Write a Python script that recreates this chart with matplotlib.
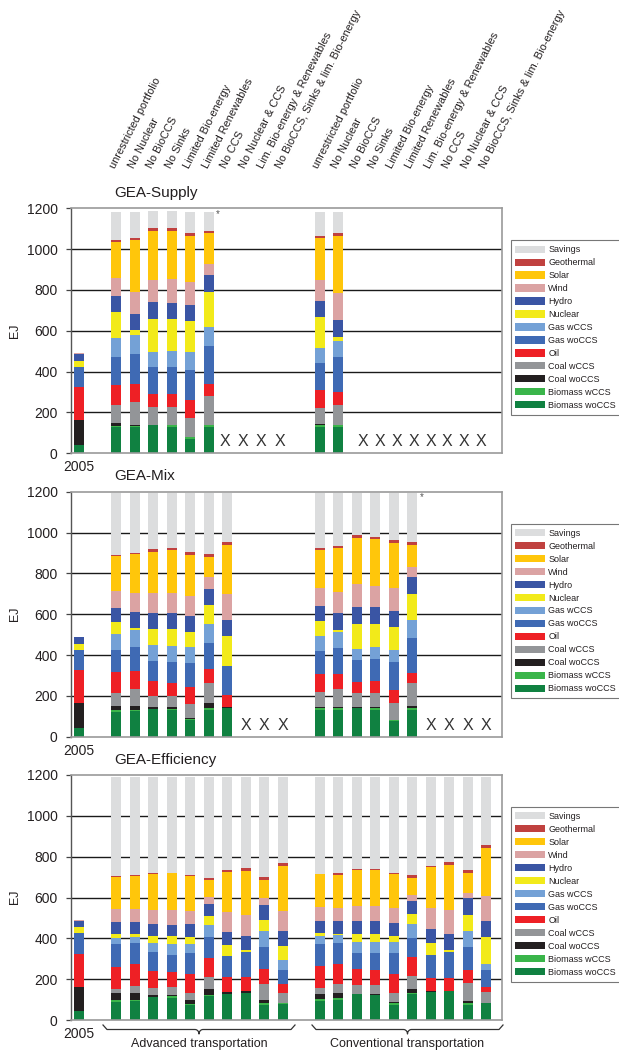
import numpy as np
import matplotlib
matplotlib.use('Agg')
import matplotlib.pyplot as plt
from matplotlib.patches import Patch
from matplotlib.lines import Line2D
import matplotlib.transforms as mtransforms

plt.rcParams['font.family'] = ['Liberation Sans', 'DejaVu Sans']

N = np.nan

# ---------------- data ----------------
sources = ['Biomass woCCS', 'Biomass wCCS', 'Coal woCCS', 'Coal wCCS', 'Oil',
           'Gas woCCS', 'Gas wCCS', 'Nuclear', 'Hydro', 'Wind', 'Solar',
           'Geothermal', 'Savings']
colors = ['#108141', '#3AB54A', '#231F20', '#939598', '#EE2025',
          '#3F6AB4', '#74A1D6', '#F2EA1A', '#3A55A4', '#DBA3A3', '#FFC60B',
          '#C0413F', '#DCDDDE']

adv_labels = ['unrestricted portfolio', 'No Nuclear', 'No BioCCS', 'No Sinks',
              'Limited Bio-energy', 'Limited Renewables', 'No CCS',
              'No Nuclear & CCS', 'Lim. Bio-energy & Renewables',
              'No BioCCS, Sinks & lim. Bio-energy']
conv_labels = ['unrestricted portfolio', 'No Nuclear', 'No BioCCS', 'No Sinks',
               'Limited Bio-energy', 'Limited Renewables',
               'Lim. Bio-energy & Renewables', 'No CCS', 'No Nuclear & CCS',
               'No BioCCS, Sinks & lim. Bio-energy']
panel_titles = ['GEA-Supply', 'GEA-Mix', 'GEA-Efficiency']
year_label = '2005'

# bars: 2005, advanced 1..10, conventional 1..10  (EJ)
supply_bio_wo  = [42, 130, 128, 138, 130, 72, 128, N, N, N, N, 128, 128, N, N, N, N, N, N, N, N]
supply_bio_w   = [0, 5, 5, 0, 7, 8, 9, N, N, N, N, 9, 10, N, N, N, N, N, N, N, N]
supply_coal_wo = [122, 13, 8, 3, 4, 0, 4, N, N, N, N, 6, 0, N, N, N, N, N, N, N, N]
supply_coal_w  = [0, 88, 109, 85, 85, 92, 139, N, N, N, N, 80, 98, N, N, N, N, N, N, N, N]
supply_oil     = [161, 97, 90, 65, 65, 88, 60, N, N, N, N, 88, 65, N, N, N, N, N, N, N, N]
supply_gas_wo  = [100, 137, 145, 130, 130, 146, 184, N, N, N, N, 130, 169, N, N, N, N, N, N, N, N]
supply_gas_w   = [0, 93, 92, 73, 78, 88, 97, N, N, N, N, 73, 78, N, N, N, N, N, N, N, N]
supply_nuclear = [29, 131, 25, 166, 161, 156, 171, N, N, N, N, 156, 20, N, N, N, N, N, N, N, N]
supply_hydro   = [32, 78, 78, 83, 78, 78, 83, N, N, N, N, 78, 83, N, N, N, N, N, N, N, N]
supply_wind    = [3, 88, 112, 107, 117, 112, 53, N, N, N, N, 102, 132, N, N, N, N, N, N, N, N]
supply_solar   = [0, 176, 254, 239, 234, 224, 152, N, N, N, N, 205, 283, N, N, N, N, N, N, N, N]
supply_geo     = [0, 10, 10, 15, 15, 15, 9, N, N, N, N, 10, 15, N, N, N, N, N, N, N, N]
supply_savings = [0, 137, 127, 83, 83, 102, 93, N, N, N, N, 117, 102, N, N, N, N, N, N, N, N]

mix_bio_wo  = [42, 121, 127, 135, 132, 80, 131, 140, N, N, N, 131, 131, 140, 131, 77, 131, N, N, N, N]
mix_bio_w   = [0, 10, 5, 0, 3, 5, 9, 0, N, N, N, 9, 9, 0, 9, 6, 9, N, N, N, N]
mix_coal_wo = [122, 19, 18, 10, 10, 5, 25, 5, N, N, N, 5, 5, 5, 5, 0, 10, N, N, N, N]
mix_coal_w  = [0, 64, 83, 54, 54, 70, 98, 0, N, N, N, 74, 88, 69, 69, 82, 113, N, N, N, N]
mix_oil     = [161, 103, 88, 74, 64, 83, 69, 59, N, N, N, 90, 75, 55, 59, 65, 49, N, N, N, N]
mix_gas_wo  = [100, 108, 117, 98, 103, 118, 127, 142, N, N, N, 111, 126, 106, 108, 136, 171, N, N, N, N]
mix_gas_w   = [0, 78, 83, 78, 78, 78, 93, 0, N, N, N, 73, 79, 54, 58, 59, 88, N, N, N, N]
mix_nuclear = [29, 59, 10, 78, 83, 74, 93, 147, N, N, N, 74, 10, 122, 113, 113, 127, N, N, N, N]
mix_hydro   = [32, 68, 78, 78, 78, 78, 78, 78, N, N, N, 73, 83, 83, 83, 78, 83, N, N, N, N]
mix_wind    = [3, 83, 93, 98, 98, 98, 59, 127, N, N, N, 88, 103, 113, 103, 113, 49, N, N, N, N]
mix_solar   = [0, 171, 191, 201, 211, 201, 98, 240, N, N, N, 186, 215, 225, 230, 220, 108, N, N, N, N]
mix_geo     = [0, 5, 5, 15, 10, 15, 15, 15, N, N, N, 10, 10, 15, 10, 15, 15, N, N, N, N]
mix_savings = [0, 305, 295, 276, 271, 290, 300, 241, N, N, N, 271, 261, 207, 217, 231, 241, N, N, N, N]

eff_bio_wo  = [42, 88, 95, 113, 108, 73, 118, 127, 132, 73, 78, 93, 98, 127, 121, 73, 127, 137, 142, 73, 83]
eff_bio_w   = [0, 10, 5, 0, 10, 5, 5, 0, 0, 10, 5, 10, 10, 0, 0, 10, 5, 0, 0, 10, 0]
eff_coal_wo = [122, 34, 32, 10, 5, 20, 29, 10, 10, 15, 0, 24, 24, 0, 6, 5, 20, 5, 0, 10, 0]
eff_coal_w  = [0, 20, 35, 34, 39, 34, 59, 0, 0, 78, 49, 30, 44, 44, 44, 44, 64, 0, 0, 88, 54]
eff_oil     = [161, 108, 107, 83, 73, 93, 93, 73, 69, 74, 44, 108, 98, 78, 74, 93, 93, 64, 64, 64, 25]
eff_gas_wo  = [100, 112, 103, 93, 83, 103, 103, 103, 122, 108, 69, 108, 103, 78, 83, 103, 93, 112, 127, 113, 83]
eff_gas_w   = [0, 30, 30, 44, 54, 44, 59, 0, 0, 78, 49, 39, 39, 54, 54, 54, 68, 0, 0, 78, 29]
eff_nuclear = [29, 19, 15, 34, 39, 35, 44, 54, 10, 54, 68, 15, 5, 39, 39, 29, 49, 59, 10, 78, 133]
eff_hydro   = [32, 59, 59, 59, 54, 63, 59, 64, 69, 73, 74, 59, 64, 64, 64, 64, 64, 69, 78, 84, 78]
eff_wind    = [3, 64, 64, 69, 74, 64, 34, 98, 103, 35, 98, 69, 64, 73, 73, 73, 29, 103, 118, 24, 122]
eff_solar   = [0, 157, 162, 176, 181, 171, 83, 196, 216, 88, 220, 161, 161, 176, 176, 167, 83, 201, 220, 98, 235]
eff_geo     = [0, 5, 5, 5, 0, 5, 10, 10, 15, 15, 15, 0, 10, 5, 5, 5, 15, 5, 15, 15, 15]
eff_savings = [0, 485, 480, 470, 470, 480, 495, 455, 446, 490, 421, 475, 470, 450, 450, 470, 480, 436, 416, 455, 333]

panels = [
    [supply_bio_wo, supply_bio_w, supply_coal_wo, supply_coal_w, supply_oil, supply_gas_wo,
     supply_gas_w, supply_nuclear, supply_hydro, supply_wind, supply_solar, supply_geo, supply_savings],
    [mix_bio_wo, mix_bio_w, mix_coal_wo, mix_coal_w, mix_oil, mix_gas_wo,
     mix_gas_w, mix_nuclear, mix_hydro, mix_wind, mix_solar, mix_geo, mix_savings],
    [eff_bio_wo, eff_bio_w, eff_coal_wo, eff_coal_w, eff_oil, eff_gas_wo,
     eff_gas_w, eff_nuclear, eff_hydro, eff_wind, eff_solar, eff_geo, eff_savings],
]

# ---------------- layout ----------------
W, H = 619, 1052
fig = plt.figure(figsize=(W / 100, H / 100), dpi=100)

def fx(px):
    return px / W

def fy(py):
    return 1 - py / H

TXT = '#231F20'
positions = np.array([0] + list(range(2, 12)) + list(range(13, 23)), dtype=float)
bar_w = 0.54
panel_tops = [208.3, 491.7, 775.0]
ax_h = 245.0
left_px, right_px = 70.7, 502.0

# X marks (positions of missing scenarios, in slot units)
xmarks = [
    [7.88, 8.84, 9.84, 10.86, 15.34, 16.27, 17.17, 18.11, 19.01, 19.91, 20.81, 21.71],
    [9, 10, 11, 19, 20, 21, 22],
    [],
]
asterisks = [(7, 1172), (18, 1172), None]

axes = []
for p, top in enumerate(panel_tops):
    ax = fig.add_axes([fx(left_px), fy(top + ax_h), (right_px - left_px) / W, ax_h / H])
    axes.append(ax)
    data = panels[p]
    bottom = np.zeros(len(positions))
    for vals, col in zip(data, colors):
        v = np.array(vals, dtype=float)
        ax.bar(positions, v, bar_w, bottom=bottom, color=col, edgecolor='none', zorder=2)
        bottom = bottom + np.nan_to_num(v)
    ax.set_xlim(-0.45, 22.86)
    ax.set_ylim(0, 1200)
    yt = [0, 200, 400, 600, 800, 1000, 1200]
    ax.set_yticks(yt)
    ax.set_yticklabels([str(v) for v in yt], fontsize=10, color=TXT)
    for yv in yt[1:-1]:
        ax.axhline(yv, color='#1a1a1a', lw=1.0, zorder=1)
    ax.tick_params(axis='y', direction='out', length=3.5, width=0.9, color='#444444', pad=6)
    ax.set_xticks([0])
    ax.set_xticklabels([year_label], fontsize=10, color=TXT)
    ax.tick_params(axis='x', length=0, pad=5)
    for s in ['top', 'right', 'bottom']:
        ax.spines[s].set_color('#9a9a9a')
        ax.spines[s].set_linewidth(1.2)
    ax.spines['left'].set_color('#555555')
    ax.spines['left'].set_linewidth(1.0)
    for xm in xmarks[p]:
        ax.text(xm, 56, 'X', fontsize=11.5, color='#333333', ha='center', va='center', zorder=3)
    if asterisks[p] is not None:
        ax.text(asterisks[p][0] + 0.42, asterisks[p][1], '*', fontsize=7, color='#555555',
                ha='left', va='center')
    fig.text(fx(114), fy(top - 11.3), panel_titles[p], fontsize=11, color=TXT, va='baseline')
    fig.text(fx(15), fy(top + 122), 'EJ', fontsize=9, color=TXT, rotation=90,
             ha='center', va='center')
    handles = [Patch(facecolor=c, edgecolor='none', label=l)
               for l, c in zip(sources[::-1], colors[::-1])]
    leg = ax.legend(handles=handles, loc='upper left',
                    bbox_to_anchor=(fx(510.5), fy(top + 32)), bbox_transform=fig.transFigure,
                    fontsize=6.5, frameon=True, fancybox=False, framealpha=1,
                    handlelength=3.3, handleheight=0.85, handletextpad=0.35,
                    labelspacing=0.44, borderpad=0.55, borderaxespad=0)
    leg.get_frame().set_edgecolor('#777777')
    leg.get_frame().set_linewidth(0.8)
    for t in leg.get_texts():
        t.set_color(TXT)

# scenario labels above the first panel
trans = mtransforms.blended_transform_factory(axes[0].transData, fig.transFigure)
for lab, pos in zip(adv_labels + conv_labels, positions[1:]):
    axes[0].text(pos + 0.05, fy(170), lab, transform=trans, rotation=63,
                 rotation_mode='anchor', ha='left', va='bottom', fontsize=7.9, color=TXT)

# braces under the last panel
def brace(x0, x1, y_end=1025.0, y_mid=1029.5, y_tip=1034.0, r=4.0):
    xm = (x0 + x1) / 2
    t = np.linspace(0, np.pi / 2, 10)
    c1x = x0 + r - r * np.cos(t)
    c1y = y_mid - (y_mid - y_end) * np.cos(t)
    c2x = xm - r + r * np.sin(t)
    c2y = y_mid + (y_tip - y_mid) * (1 - np.cos(t))
    lx = np.concatenate([c1x, c2x])
    ly = np.concatenate([c1y, c2y])
    rx = (x0 + x1) - lx[::-1]
    ry = ly[::-1]
    xs = np.concatenate([lx, rx])
    ys = np.concatenate([ly, ry])
    fig.add_artist(Line2D(fx(xs), fy(ys), transform=fig.transFigure, color='#333333', lw=0.9))
    return xm

xa = brace(103, 295)
xc = brace(312, 503)
fig.text(fx(xa), fy(1044), 'Advanced transportation', fontsize=9, color=TXT, ha='center', va='center')
fig.text(fx(xc), fy(1044), 'Conventional transportation', fontsize=9, color=TXT, ha='center', va='center')

fig.savefig('out.png', dpi=100)
